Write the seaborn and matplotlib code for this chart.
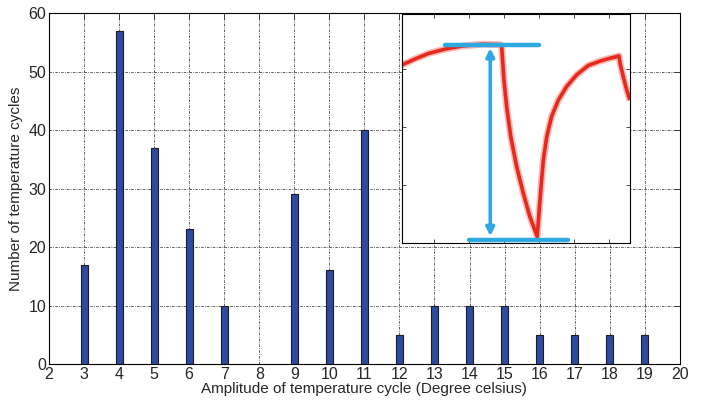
import matplotlib
matplotlib.use("Agg")
import matplotlib.pyplot as plt
import seaborn as sns
import pandas as pd

# Data
amplitude = [3, 4, 5, 6, 7, 8, 9, 10, 11, 12, 13, 14, 15, 16, 17, 18, 19]
cycles = [17, 57, 37, 23, 10, 0, 29, 16, 40, 5, 10, 10, 10, 5, 5, 5, 5]
x_ticks = list(range(2, 21))
y_ticks = [0, 10, 20, 30, 40, 50, 60]

# Inset illustration (normalised coordinates)
curve_x = [0.0, 0.06, 0.117, 0.19, 0.263, 0.35, 0.432,
           0.437, 0.447, 0.459, 0.477, 0.503, 0.532, 0.561, 0.593,
           0.602, 0.610, 0.620, 0.635, 0.656, 0.686, 0.722, 0.766, 0.817,
           0.865, 0.898, 0.930, 0.952,
           0.958, 0.971, 0.985, 1.0]
curve_y = [0.778, 0.805, 0.828, 0.847, 0.860, 0.868, 0.866,
           0.860, 0.712, 0.595, 0.464, 0.333, 0.217, 0.115, 0.028,
           0.144, 0.246, 0.362, 0.464, 0.552, 0.624, 0.683, 0.734, 0.775,
           0.793, 0.803, 0.811, 0.817,
           0.780, 0.726, 0.672, 0.624]
top_bar_x = [0.19, 0.60]
top_bar_y = 0.866
bot_bar_x = [0.295, 0.73]
bot_bar_y = 0.015
arrow_x = 0.387

sns.set_style("white")
plt.rcParams['font.family'] = ['Liberation Sans', 'DejaVu Sans']

fig = plt.figure(figsize=(7.03, 4.00), dpi=100)
ax = fig.add_axes([0.0697, 0.09, 0.8973, 0.8775])

df = pd.DataFrame({"amp": amplitude, "n": cycles})
sns.barplot(data=df, x="amp", y="n", native_scale=True, width=0.2,
            color="#2F4B9F", saturation=1, edgecolor="#1a1a2a", linewidth=0.8,
            ax=ax, zorder=3)

ax.set_xlim(2, 20)
ax.set_ylim(0, 60)
ax.set_xticks(x_ticks)
ax.set_yticks(y_ticks)
ax.tick_params(direction="in", length=4, labelsize=11.5, width=0.6,
               top=True, right=True, pad=2)
ax.grid(True, linestyle=(0, (3, 1.5, 1, 1.5)), color="#444444", linewidth=0.6)
ax.set_axisbelow(True)
for s in ax.spines.values():
    s.set_color("black")
    s.set_linewidth(0.8)
ax.set_xlabel("Amplitude of temperature cycle (Degree celsius)", fontsize=11, labelpad=0)
ax.set_ylabel("Number of temperature cycles", fontsize=11, labelpad=4)

# Inset
ins = fig.add_axes([0.572, 0.3925, 0.324, 0.5725])
ins.set_facecolor("white")
ins.set_xlim(0, 1)
ins.set_ylim(0, 1)
ins.set_xticks([0.142, 0.295, 0.448, 0.601, 0.754, 0.907])
ins.set_yticks([0.254, 0.508, 0.762])
ins.tick_params(direction="in", length=3, width=0.6, labelbottom=False,
                labelleft=False, top=True, right=True, bottom=True, left=True)
for s in ins.spines.values():
    s.set_color("black")
    s.set_linewidth(0.8)
ins.plot(curve_x, curve_y, color="#F5A09A", linewidth=5.0, solid_capstyle="butt",
         solid_joinstyle="round", alpha=0.7)
ins.plot(curve_x, curve_y, color="#E8281C", linewidth=2.6, solid_capstyle="butt",
         solid_joinstyle="round")
ins.plot(top_bar_x, [top_bar_y, top_bar_y], color="#2DA8E0", linewidth=3.2)
ins.plot(bot_bar_x, [bot_bar_y, bot_bar_y], color="#2DA8E0", linewidth=3.2)
ins.annotate("", xy=(arrow_x, bot_bar_y + 0.015), xytext=(arrow_x, top_bar_y - 0.015),
             arrowprops=dict(arrowstyle="<|-|>", color="#2DA8E0", lw=2.6,
                             mutation_scale=12, shrinkA=0, shrinkB=0))

fig.savefig("out.png", dpi=100)
